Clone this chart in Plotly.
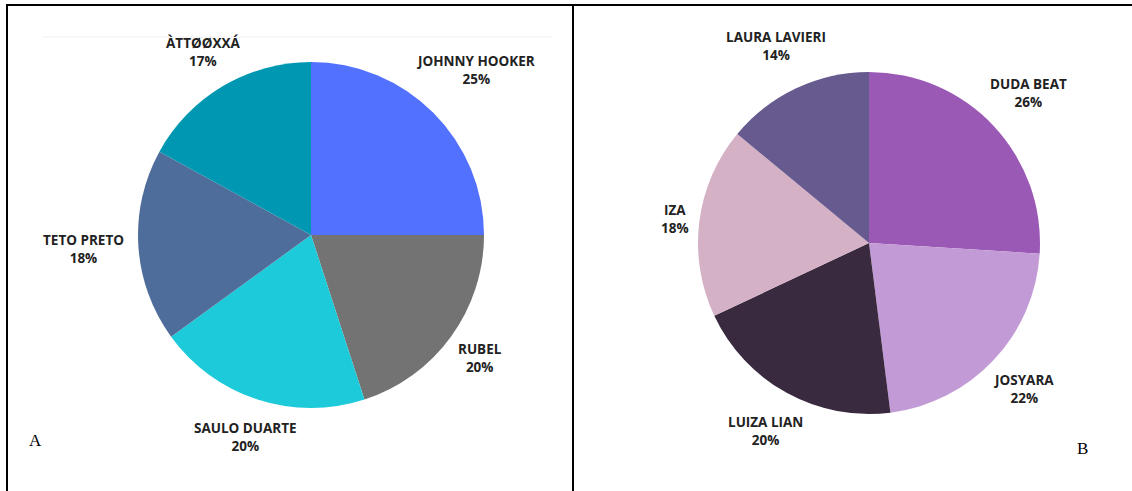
import math
import plotly.graph_objects as go

# Panel A
labels_a = ["JOHNNY HOOKER", "RUBEL", "SAULO DUARTE", "TETO PRETO", "ÀTTØØXXÁ"]
values_a = [25, 20, 20, 18, 17]
colors_a = ["#5271FF", "#737373", "#1CCAD9", "#4F6D9A", "#0097B2"]

# Panel B
labels_b = ["DUDA BEAT", "JOSYARA", "LUIZA LIAN", "IZA", "LAURA LAVIERI"]
values_b = [26, 22, 20, 18, 14]
colors_b = ["#9B59B6", "#C29AD5", "#3A2A40", "#D5B1C6", "#675A8F"]

W, H = 1132, 491
FONT_SIZE = 13.5
CHAR_W = 9.1
LINE_H = 28
GAP = 9


def px(x):
    return x / W


def py(y):
    return (H - y) / H


def pie(labels, values, colors, cx, cy, r):
    return go.Pie(
        labels=labels, values=values, sort=False, direction="clockwise", rotation=0,
        marker=dict(colors=colors, line=dict(width=0)),
        textinfo="none",
        domain=dict(x=[(cx - r) / W, (cx + r) / W], y=[(H - cy - r) / H, (H - cy + r) / H]),
        showlegend=False, hoverinfo="label+percent",
    )


def pie_labels(labels, values, cx, cy, r):
    total = sum(values)
    out = []
    cum = 0
    for lab, v in zip(labels, values):
        mid = (cum + v / 2) / total * 2 * math.pi
        cum += v
        pct = f"{round(v / total * 100)}%"
        w = max(len(lab), len(pct)) * CHAR_W
        ext = (w / 2) * abs(math.sin(mid)) + (LINE_H / 2) * abs(math.cos(mid))
        d = r + GAP + ext
        x = cx + d * math.sin(mid)
        y = cy - d * math.cos(mid)
        out.append(dict(
            text=f"<b>{lab}</b><br><b>{pct}</b>", x=px(x), y=py(y), xref="paper", yref="paper",
            xanchor="center", yanchor="middle", showarrow=False, align="center",
            font=dict(family="Open Sans", size=FONT_SIZE, color="#222222"),
        ))
    return out


A_CX, A_CY, A_R = 311, 235, 173
B_CX, B_CY, B_R = 869, 243, 171

fig = go.Figure()
fig.add_trace(pie(labels_a, values_a, colors_a, A_CX, A_CY, A_R))
fig.add_trace(pie(labels_b, values_b, colors_b, B_CX, B_CY, B_R))

shapes = [
    dict(type="line", xref="paper", yref="paper", x0=px(42), x1=px(552), y0=py(37), y1=py(37),
         line=dict(color="#F0F0F0", width=1)),
    dict(type="line", xref="paper", yref="paper", x0=px(6), x1=px(1132), y0=py(5), y1=py(5),
         line=dict(color="black", width=2)),
    dict(type="line", xref="paper", yref="paper", x0=px(7), x1=px(7), y0=py(5), y1=py(491),
         line=dict(color="black", width=2)),
    dict(type="line", xref="paper", yref="paper", x0=px(573), x1=px(573), y0=py(5), y1=py(491),
         line=dict(color="black", width=2)),
]

annotations = pie_labels(labels_a, values_a, A_CX, A_CY, A_R) + pie_labels(labels_b, values_b, B_CX, B_CY, B_R)
annotations += [
    dict(text="A", x=px(35), y=py(440), xref="paper", yref="paper", showarrow=False,
         xanchor="center", yanchor="middle",
         font=dict(family="Liberation Serif", size=17, color="black")),
    dict(text="B", x=px(1082), y=py(448), xref="paper", yref="paper", showarrow=False,
         xanchor="center", yanchor="middle",
         font=dict(family="Liberation Serif", size=17, color="black")),
]

fig.update_layout(
    width=W, height=H, margin=dict(l=0, r=0, t=0, b=0),
    paper_bgcolor="white", plot_bgcolor="white",
    shapes=shapes, annotations=annotations,
)

fig.write_html("out.html", config={"displayModeBar": False},
               post_script="document.body.style.margin='0';document.body.style.overflow='hidden';")
